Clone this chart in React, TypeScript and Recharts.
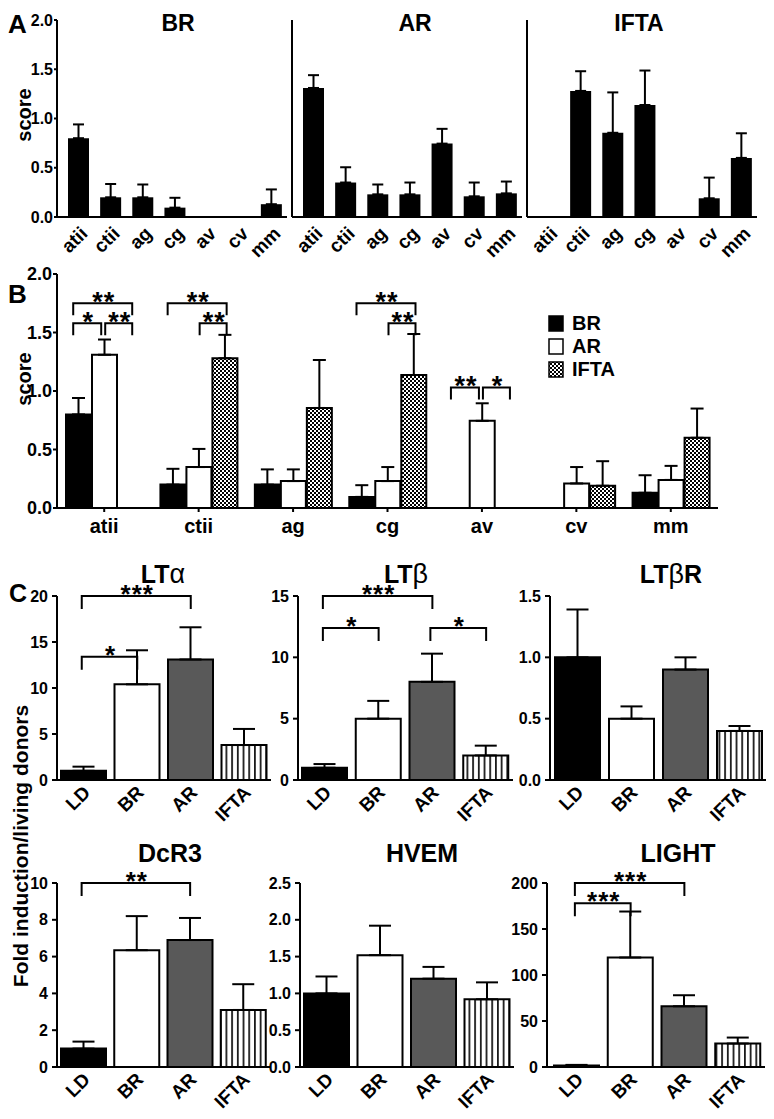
import { BarChart, Bar, XAxis, YAxis, ErrorBar, Cell, ReferenceLine, Legend } from "recharts";

const FONT = "Arial, 'Liberation Sans', Helvetica, sans-serif";

// A / B: histological lesion scores (mean, upper SEM)
const lesions = ["atii", "ctii", "ag", "cg", "av", "cv", "mm"];
const brScore = [0.8, 0.2, 0.2, 0.095, 0, 0, 0.13];
const brSem = [0.14, 0.135, 0.13, 0.1, 0, 0, 0.15];
const arScore = [1.31, 0.35, 0.23, 0.23, 0.745, 0.21, 0.24];
const arSem = [0.13, 0.155, 0.1, 0.12, 0.15, 0.14, 0.12];
const iftaScore = [0, 1.28, 0.855, 1.137, 0, 0.19, 0.6];
const iftaSem = [0, 0.2, 0.41, 0.35, 0, 0.21, 0.25];
const scoreTicks = [0, 0.5, 1, 1.5, 2];

// significance brackets in B (series index 0 BR, 1 AR, 2 IFTA)
const scoreSig = [
  { cat: "atii", from: 0, to: 2, y: 1.75, label: "**" },
  { cat: "atii", from: 0, to: 1, y: 1.58, label: "*" },
  { cat: "atii", from: 1, to: 2, y: 1.58, label: "**" },
  { cat: "ctii", from: 0, to: 2, y: 1.75, label: "**" },
  { cat: "ctii", from: 1, to: 2, y: 1.58, label: "**" },
  { cat: "cg", from: 0, to: 2, y: 1.75, label: "**" },
  { cat: "cg", from: 1, to: 2, y: 1.58, label: "**" },
  { cat: "av", from: 0, to: 1, y: 1.03, label: "**" },
  { cat: "av", from: 1, to: 2, y: 1.03, label: "*" },
];

// C: fold induction / living donors
const groups = ["LD", "BR", "AR", "IFTA"];
const ltaFold = [1.0, 10.4, 13.1, 3.8];
const ltaSem = [0.45, 3.7, 3.5, 1.75];
const ltbFold = [1.0, 5.0, 8.0, 2.0];
const ltbSem = [0.3, 1.45, 2.3, 0.8];
const ltbrFold = [1.0, 0.5, 0.9, 0.4];
const ltbrSem = [0.39, 0.1, 0.1, 0.04];
const dcr3Fold = [1.0, 6.35, 6.9, 3.1];
const dcr3Sem = [0.38, 1.85, 1.2, 1.4];
const hvemFold = [1.0, 1.52, 1.2, 0.92];
const hvemSem = [0.23, 0.4, 0.16, 0.23];
const lightFold = [1.5, 119, 66, 25.5];
const lightSem = [0.8, 50, 12, 6.5];

const ltaSig = [
  { from: "LD", to: "AR", y: 20, label: "***" },
  { from: "LD", to: "BR", y: 13.4, label: "*" },
];
const ltbSig = [
  { from: "LD", to: "AR", y: 15, label: "***" },
  { from: "LD", to: "BR", y: 12.4, label: "*" },
  { from: "AR", to: "IFTA", y: 12.4, label: "*" },
];
const dcr3Sig = [{ from: "LD", to: "AR", y: 10, label: "**" }];
const lightSig = [
  { from: "LD", to: "AR", y: 200, label: "***" },
  { from: "LD", to: "BR", y: 178, label: "***" },
];

const scoreSeries = [
  { key: "BR", fill: "#000" },
  { key: "AR", fill: "#fff" },
  { key: "IFTA", fill: "url(#checker)" },
];
const groupFills = ["#000", "#fff", "#595959", "url(#stripes)"];

const axisStyle = { stroke: "#000", strokeWidth: 2 };
const tickLineStyle = { stroke: "#000", strokeWidth: 2 };

const slantTick = (fs: number, dx: number, dy: number) => (props: any) => {
  const { x, y, payload } = props;
  return (
    <g transform={`translate(${x + dx},${y + dy})`}>
      <text
        textAnchor="end"
        transform="rotate(-45)"
        dy={fs * 0.72}
        fontSize={fs}
        fontWeight="bold"
        fontFamily={FONT}
        fill="#000"
      >
        {payload.value}
      </text>
    </g>
  );
};

const bracket =
  (label: string, dx1: number, dx2: number, leg: number, fs: number, gap: number) => (p: any) => {
    const x1 = p.x1 + dx1;
    const x2 = p.x2 + dx2;
    const y = p.y1;
    return (
      <g>
        <path d={`M${x1},${y + leg}V${y}H${x2}V${y + leg}`} fill="none" stroke="#000" strokeWidth={2} />
        <text
          x={(x1 + x2) / 2 + 1}
          y={y - gap + fs * 0.57}
          textAnchor="middle"
          fontSize={fs}
          fontWeight="bold"
          fontFamily={FONT}
          letterSpacing={1}
          fill="#000"
        >
          {label}
        </text>
      </g>
    );
  };

function ScoreMini({ values, sems, axisX, labels }: { values: number[]; sems: number[]; axisX: number; labels: boolean }) {
  const yw = labels ? 57 : 4;
  const plotW = 230;
  const data = lesions.map((l, i) => ({ lesion: l, v: values[i], e: [0, sems[i]] }));
  return (
    <div style={{ position: "absolute", left: axisX - yw, top: 0 }}>
      <BarChart width={yw + plotW + 4} height={279} data={data} margin={{ top: 20, right: 4, left: 0, bottom: 0 }}>
        <XAxis
          dataKey="lesion"
          height={62}
          interval={0}
          padding={{ left: 5, right: 0 }}
          tickLine={false}
          tickSize={0}
          tickMargin={0}
          axisLine={axisStyle}
          tick={slantTick(19, 1, 8)}
        />
        <YAxis
          width={yw}
          domain={[0, 2]}
          ticks={scoreTicks}
          interval={0}
          tickFormatter={(v: number) => v.toFixed(1)}
          tick={labels ? { fontSize: 16, fontWeight: "bold", fill: "#000", fontFamily: FONT } : false}
          tickSize={3}
          tickMargin={1}
          axisLine={axisStyle}
          tickLine={tickLineStyle}
        />
        <Bar dataKey="v" fill="#000" barSize={21} isAnimationActive={false}>
          <ErrorBar dataKey="e" width={5.5} stroke="#000" strokeWidth={2} />
        </Bar>
      </BarChart>
    </div>
  );
}

function ScoreGrouped() {
  const data = lesions.map((l, i) => ({
    lesion: l,
    BR: brScore[i],
    BRe: [0, brSem[i]],
    AR: arScore[i],
    ARe: [0, arSem[i]],
    IFTA: iftaScore[i],
    IFTAe: [0, iftaSem[i]],
  }));
  return (
    <div style={{ position: "absolute", left: 0, top: 250 }}>
      <BarChart width={725} height={298} data={data} margin={{ top: 24, right: 7, left: 0, bottom: 0 }} barGap={1}>
        <XAxis
          dataKey="lesion"
          height={40}
          interval={0}
          tickSize={4}
          tickMargin={7}
          axisLine={axisStyle}
          tickLine={tickLineStyle}
          tick={{ fontSize: 20, fontWeight: "bold", fill: "#000", fontFamily: FONT }}
        />
        <YAxis
          width={57}
          domain={[0, 2]}
          ticks={scoreTicks}
          interval={0}
          tickFormatter={(v: number) => v.toFixed(1)}
          tick={{ fontSize: 18, fontWeight: "bold", fill: "#000", fontFamily: FONT }}
          tickSize={4}
          tickMargin={1}
          axisLine={axisStyle}
          tickLine={tickLineStyle}
        />
        {scoreSeries.map((s) => (
          <Bar key={s.key} dataKey={s.key} fill={s.fill} stroke="#000" strokeWidth={2} barSize={25} isAnimationActive={false}>
            <ErrorBar dataKey={s.key + "e"} width={6.5} stroke="#000" strokeWidth={2} />
          </Bar>
        ))}
        {scoreSig.map((b, i) => (
          <ReferenceLine
            key={i}
            segment={[
              { x: b.cat, y: b.y },
              { x: b.cat, y: b.y },
            ]}
            shape={bracket(
              b.label,
              (b.from - 1) * 26 + (b.from === 1 ? 1 : -5),
              (b.to - 1) * 26 + (b.to === 1 ? -3 : 2),
              12,
              27,
              8
            )}
          />
        ))}
        <Legend
          layout="vertical"
          verticalAlign="middle"
          align="center"
          wrapperStyle={{ left: 548, top: 62, width: 100 }}
          content={() => (
            <div>
              {scoreSeries.map((s) => (
                <div key={s.key} style={{ display: "flex", alignItems: "center", height: 23 }}>
                  <svg width={16} height={17}>
                    <rect x={1} y={1} width={14} height={15} fill={s.fill} stroke="#000" strokeWidth={1.5} />
                  </svg>
                  <span style={{ marginLeft: 8, fontSize: 20, fontWeight: "bold", fontFamily: FONT, color: "#000" }}>
                    {s.key}
                  </span>
                </div>
              ))}
            </div>
          )}
        />
      </BarChart>
    </div>
  );
}

function FoldChart({
  vals,
  sems,
  yMax,
  ticks,
  decimals,
  sig,
  axisX,
  plotTop,
  plotW,
  padLeft = 0,
}: {
  vals: number[];
  sems: number[];
  yMax: number;
  ticks: number[];
  decimals: number;
  sig: { from: string; to: string; y: number; label: string }[];
  axisX: number;
  plotTop: number;
  plotW: number;
  padLeft?: number;
}) {
  const yw = 50;
  const mt = 30;
  const plotH = 184;
  const xh = 60;
  const data = groups.map((g, i) => ({ group: g, v: vals[i], e: [0, sems[i]] }));
  return (
    <div style={{ position: "absolute", left: axisX - yw, top: plotTop - mt }}>
      <BarChart width={yw + plotW + 6} height={mt + plotH + xh} data={data} margin={{ top: mt, right: 6, left: 0, bottom: 0 }}>
        <XAxis
          dataKey="group"
          height={xh}
          interval={0}
          padding={{ left: padLeft, right: 0 }}
          tickLine={false}
          tickSize={0}
          tickMargin={0}
          axisLine={axisStyle}
          tick={slantTick(19, -2, 4)}
        />
        <YAxis
          width={yw}
          domain={[0, yMax]}
          ticks={ticks}
          interval={0}
          tickFormatter={(v: number) => v.toFixed(decimals)}
          tick={{ fontSize: 16, fontWeight: "bold", fill: "#000", fontFamily: FONT }}
          tickSize={5}
          tickMargin={4}
          axisLine={axisStyle}
          tickLine={tickLineStyle}
        />
        <Bar dataKey="v" barSize={45} stroke="#000" strokeWidth={2} isAnimationActive={false}>
          {groupFills.map((f, i) => (
            <Cell key={i} fill={f} />
          ))}
          <ErrorBar dataKey="e" width={11} stroke="#000" strokeWidth={2} />
        </Bar>
        {sig.map((b, i) => (
          <ReferenceLine
            key={i}
            segment={[
              { x: b.from, y: b.y },
              { x: b.to, y: b.y },
            ]}
            shape={bracket(b.label, -2, 0, 13, 26, 8)}
          />
        ))}
      </BarChart>
    </div>
  );
}

const txt = { fontFamily: FONT, fontWeight: "bold" as const, fill: "#000" };

export default function App() {
  return (
    <div
      style={{
        position: "absolute",
        left: 0,
        top: 0,
        width: 774,
        height: 1119,
        overflow: "hidden",
        background: "#fff",
        fontFamily: FONT,
      }}
    >
      <svg width={0} height={0} style={{ position: "absolute" }}>
        <defs>
          <pattern id="checker" width={4} height={4} patternUnits="userSpaceOnUse">
            <rect width={4} height={4} fill="#fff" />
            <rect width={2} height={2} fill="#000" />
            <rect x={2} y={2} width={2} height={2} fill="#000" />
          </pattern>
          <pattern id="stripes" width={5.7} height={10} patternUnits="userSpaceOnUse">
            <rect width={5.7} height={10} fill="#fff" />
            <rect x={2} width={1.6} height={10} fill="#000" />
          </pattern>
        </defs>
      </svg>

      <ScoreMini values={brScore} sems={brSem} axisX={57} labels />
      <ScoreMini values={arScore} sems={arSem} axisX={292} labels={false} />
      <ScoreMini values={iftaScore} sems={iftaSem} axisX={527} labels={false} />

      <ScoreGrouped />

      <FoldChart vals={ltaFold} sems={ltaSem} yMax={20} ticks={[0, 5, 10, 15, 20]} decimals={0} sig={ltaSig} axisX={57} plotTop={596} plotW={214} />
      <FoldChart vals={ltbFold} sems={ltbSem} yMax={15} ticks={[0, 5, 10, 15]} decimals={0} sig={ltbSig} axisX={298} plotTop={596} plotW={215} />
      <FoldChart vals={ltbrFold} sems={ltbrSem} yMax={1.5} ticks={[0, 0.5, 1, 1.5]} decimals={1} sig={[]} axisX={550} plotTop={596} plotW={216} />
      <FoldChart vals={dcr3Fold} sems={dcr3Sem} yMax={10} ticks={[0, 2, 4, 6, 8, 10]} decimals={0} sig={dcr3Sig} axisX={57} plotTop={883} plotW={213} />
      <FoldChart vals={hvemFold} sems={hvemSem} yMax={2.5} ticks={[0, 0.5, 1, 1.5, 2, 2.5]} decimals={1} sig={[]} axisX={300} plotTop={883} plotW={214} />
      <FoldChart vals={lightFold} sems={lightSem} yMax={200} ticks={[0, 50, 100, 150, 200]} decimals={0} sig={lightSig} axisX={547} plotTop={883} plotW={218} padLeft={3} />

      <svg width={774} height={1119} style={{ position: "absolute", left: 0, top: 0, pointerEvents: "none" }}>
        <text x={8} y={33} fontSize={26} {...txt}>A</text>
        <text x={8} y={303} fontSize={26} {...txt}>B</text>
        <text x={9} y={602} fontSize={25} {...txt}>C</text>

        <text x={178} y={31} fontSize={23} textAnchor="middle" {...txt}>BR</text>
        <text x={415} y={31} fontSize={23} textAnchor="middle" {...txt}>AR</text>
        <text x={639} y={31} fontSize={23} textAnchor="middle" {...txt}>IFTA</text>

        <text transform="translate(31,115) rotate(-90)" fontSize={20} textAnchor="middle" {...txt}>score</text>
        <text transform="translate(31,379) rotate(-90)" fontSize={20} textAnchor="middle" {...txt}>score</text>
        <text transform="translate(28,846) rotate(-90)" fontSize={21} textAnchor="middle" {...txt}>Fold induction/living donors</text>

        <text x={163} y={583} fontSize={25} textAnchor="middle" {...txt}>LT<tspan fontWeight="normal" fontSize={27}>α</tspan></text>
        <text x={406} y={583} fontSize={25} textAnchor="middle" {...txt}>LT<tspan fontWeight="normal" fontSize={27}>β</tspan></text>
        <text x={671} y={583} fontSize={25} textAnchor="middle" {...txt}>LT<tspan fontWeight="normal" fontSize={27}>β</tspan>R</text>
        <text x={170} y={862} fontSize={25} textAnchor="middle" {...txt}>DcR3</text>
        <text x={422} y={862} fontSize={25} textAnchor="middle" {...txt}>HVEM</text>
        <text x={678} y={862} fontSize={25} textAnchor="middle" {...txt}>LIGHT</text>
      </svg>
    </div>
  );
}
